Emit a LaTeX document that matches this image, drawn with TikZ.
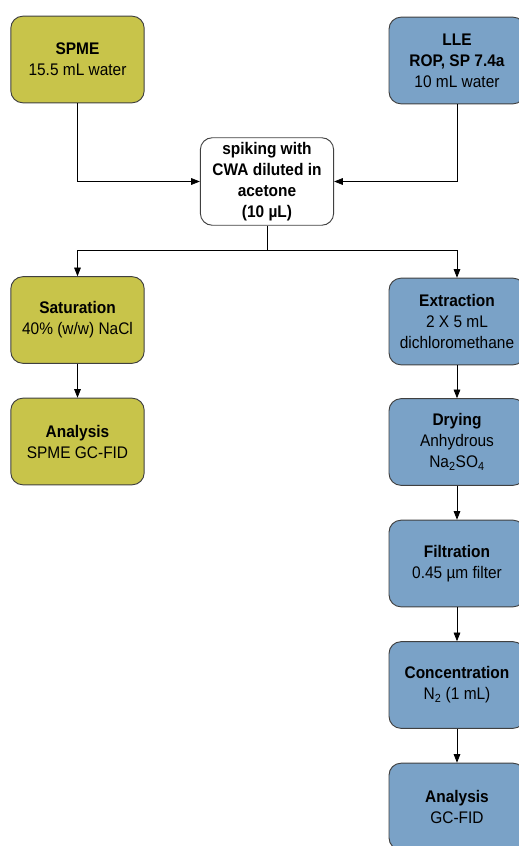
\documentclass[tikz,border=0pt]{standalone}
\usepackage{fontspec}
\setmainfont{Liberation Sans}[FakeStretch=0.92]
\usetikzlibrary{arrows.meta}
\definecolor{spmecol}{RGB}{200,196,74}
\definecolor{llecol}{RGB}{122,162,199}
\tikzstyle{box}=[draw=black!75,line width=0.7pt,rounded corners=9pt,minimum height=65pt,align=center,font=\fontsize{12.6}{15.75}\selectfont]
\tikzstyle{spme}=[box,fill=spmecol,minimum width=100pt]
\tikzstyle{lle}=[box,fill=llecol,minimum width=102pt]
\tikzstyle{flow}=[line width=0.6pt,-{Triangle[length=6.5pt,width=5pt]}]

\begin{document}
\begin{tikzpicture}[x=0.75pt,y=-0.75pt]
\useasboundingbox (0,0) rectangle (518,846);

\node[spme] (s1) at (77.5, 59.5)  {\textbf{SPME}\\15.5 mL water};
\node[spme] (s2) at (77.5, 320)   {\textbf{Saturation}\\40\% (w/w) NaCl};
\node[spme] (s3) at (77.5, 441.5) {\textbf{Analysis}\\SPME GC-FID};

\node[lle] (l1) at (457, 60.5)  {\textbf{LLE}\\\textbf{ROP, SP 7.4a}\\10 mL water};
\node[lle] (l2) at (457, 321.5) {\textbf{Extraction}\\2 X 5 mL\\dichloromethane};
\node[lle] (l3) at (457, 442)   {\textbf{Drying}\\Anhydrous\\Na\textsubscript{2}SO\textsubscript{4}};
\node[lle] (l4) at (457, 563.5) {\textbf{Filtration}\\0.45 µm filter};
\node[lle] (l5) at (457, 685)   {\textbf{Concentration}\\N\textsubscript{2} (1 mL)};
\node[lle] (l6) at (457, 806.5) {\textbf{Analysis}\\GC-FID};

\node[box,minimum width=100pt] (0) at (267, 181.5)
  {\textbf{spiking with}\\\textbf{CWA diluted in}\\\textbf{acetone}\\\textbf{(10 µL)}};
\coordinate (split) at (267, 250);

\draw[flow] (s1) |- (0);
\draw[flow] (l1) |- (0);
\draw[line width=0.6pt] (0) -- (split);
\draw[flow] (split) -| (s2);
\draw[flow] (split) -| (l2);

\draw[flow] (s2) -- (s3);
\draw[flow] (l2) -- (l3);
\draw[flow] (l3) -- (l4);
\draw[flow] (l4) -- (l5);
\draw[flow] (l5) -- (l6);

\end{tikzpicture}
\end{document}
